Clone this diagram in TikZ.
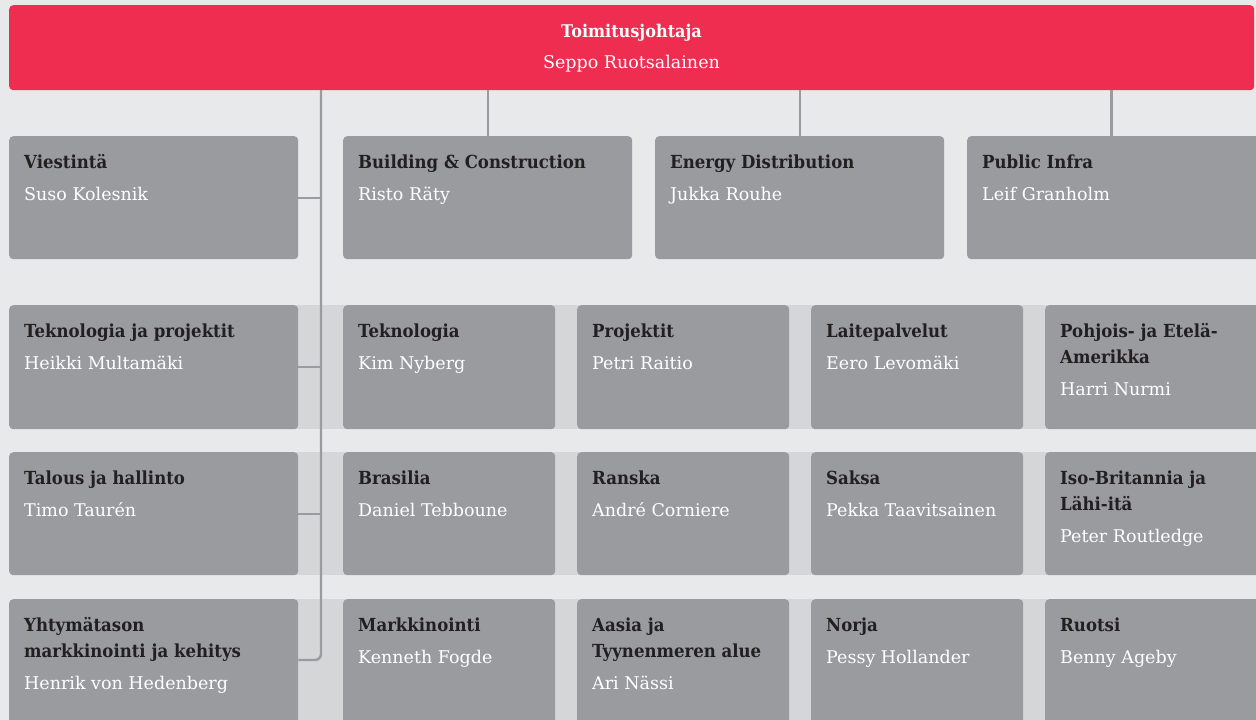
\documentclass[tikz,border=0pt]{standalone}
\usepackage{fontspec}
\setmainfont[BoldFeatures={FakeStretch=0.92}]{DejaVu Serif}
\definecolor{bgc}{HTML}{E8E9EB}
\definecolor{bandc}{HTML}{D5D6D8}
\definecolor{boxc}{HTML}{9A9B9F}
\definecolor{redc}{HTML}{EE2D50}
\definecolor{ttl}{HTML}{231F20}
\tikzset{
  x=1pt, y=-1pt,
  orgbox/.style={fill=boxc, rounded corners=4pt, inner sep=0pt, anchor=north west},
  ttltext/.style={anchor=base west, inner sep=0pt, text=ttl, font=\fontsize{18}{21}\selectfont\bfseries},
  nametext/.style={anchor=base west, inner sep=0pt, text=white, font=\fontsize{17.5}{21}\selectfont},
  conn/.style={draw=boxc, line width=2.4pt},
  band/.style={fill=bandc}
}
% #1 name, #2 x, #3 y, #4 w, #5 h, #6 title, #7 person
\newcommand\oboxA[7]{%
  \node[orgbox, minimum width=#4pt, minimum height=#5pt] (#1) at (#2,#3) {};
  \node[ttltext] (#1t) at ($(#1.north west)+(15,32)$) {#6};
  \node[nametext] (#1n) at ($(#1.north west)+(15,64)$) {#7};
}
% two-line title: #6 line1, #7 line2, #8 person
\newcommand\oboxB[8]{%
  \node[orgbox, minimum width=#4pt, minimum height=#5pt] (#1) at (#2,#3) {};
  \node[ttltext] (#1t) at ($(#1.north west)+(15,32)$) {#6};
  \node[ttltext] (#1u) at ($(#1.north west)+(15,58)$) {#7};
  \node[nametext] (#1n) at ($(#1.north west)+(15,90)$) {#8};
}
\usetikzlibrary{calc}
\begin{document}
\begin{tikzpicture}
\useasboundingbox (0,0) rectangle (1256,720);
\fill[bgc] (0,0) rectangle (1256,720);
% bands
\fill[band] (290,305) rectangle (1262,429);
\fill[band] (290,452) rectangle (1262,575);
\fill[band] (290,599) rectangle (1262,730);
% top box
\node[fill=redc, rounded corners=4pt, inner sep=0pt, anchor=north west, minimum width=1245pt, minimum height=85pt] (ceo) at (9,5) {};
\node[anchor=base, inner sep=0pt, text=white, font=\fontsize{17.5}{20}\selectfont\bfseries] (ceot) at (631.5,37) {Toimitusjohtaja};
\node[anchor=base, inner sep=0pt, text=white, font=\fontsize{17.5}{21}\selectfont] (ceon) at (631.5,68) {Seppo Ruotsalainen};
% row 1
\oboxA{vie}{9}{136}{289}{123}{Viestintä}{Suso Kolesnik}
\oboxA{bc}{343}{136}{289}{123}{Building \& Construction}{Risto Räty}
\oboxA{ed}{655}{136}{289}{123}{Energy Distribution}{Jukka Rouhe}
\oboxA{pi}{967}{136}{295}{123}{Public Infra}{Leif Granholm}
% row 2
\oboxA{tp}{9}{305}{289}{124}{Teknologia ja projektit}{Heikki Multamäki}
\oboxA{tek}{343}{305}{212}{124}{Teknologia}{Kim Nyberg}
\oboxA{pro}{577}{305}{212}{124}{Projektit}{Petri Raitio}
\oboxA{lai}{811}{305}{212}{124}{Laitepalvelut}{Eero Levomäki}
\oboxB{pea}{1045}{305}{217}{124}{Pohjois- ja Etelä-}{Amerikka}{Harri Nurmi}
% row 3
\oboxA{th}{9}{452}{289}{123}{Talous ja hallinto}{Timo Taurén}
\oboxA{bra}{343}{452}{212}{123}{Brasilia}{Daniel Tebboune}
\oboxA{ran}{577}{452}{212}{123}{Ranska}{André Corniere}
\oboxA{sak}{811}{452}{212}{123}{Saksa}{Pekka Taavitsainen}
\oboxB{ibl}{1045}{452}{217}{123}{Iso-Britannia ja}{Lähi-itä}{Peter Routledge}
% row 4
\oboxB{ymk}{9}{599}{289}{130}{Yhtymätason}{markkinointi ja kehitys}{Henrik von Hedenberg}
\oboxA{mar}{343}{599}{212}{130}{Markkinointi}{Kenneth Fogde}
\oboxB{aty}{577}{599}{212}{130}{Aasia ja}{Tyynenmeren alue}{Ari Nässi}
\oboxA{nor}{811}{599}{212}{130}{Norja}{Pessy Hollander}
\oboxA{ruo}{1045}{599}{217}{130}{Ruotsi}{Benny Ageby}
% connectors
\coordinate (spine) at (321,90);
\draw[conn, rounded corners=6pt] (spine) |- (ymk.east |- 0,660);
\draw[conn] (vie.east |- 0,198) -- (spine |- 0,198);
\draw[conn] (tp.east |- 0,367) -- (spine |- 0,367);
\draw[conn] (th.east |- 0,514) -- (spine |- 0,514);
\draw[conn] (ceo.south -| bc.north) -- (bc.north);
\draw[conn] (ceo.south -| ed.north) -- (ed.north);
\draw[conn] (ceo.south -| 1111.5,0) -- (1111.5,136);
\end{tikzpicture}
\end{document}
